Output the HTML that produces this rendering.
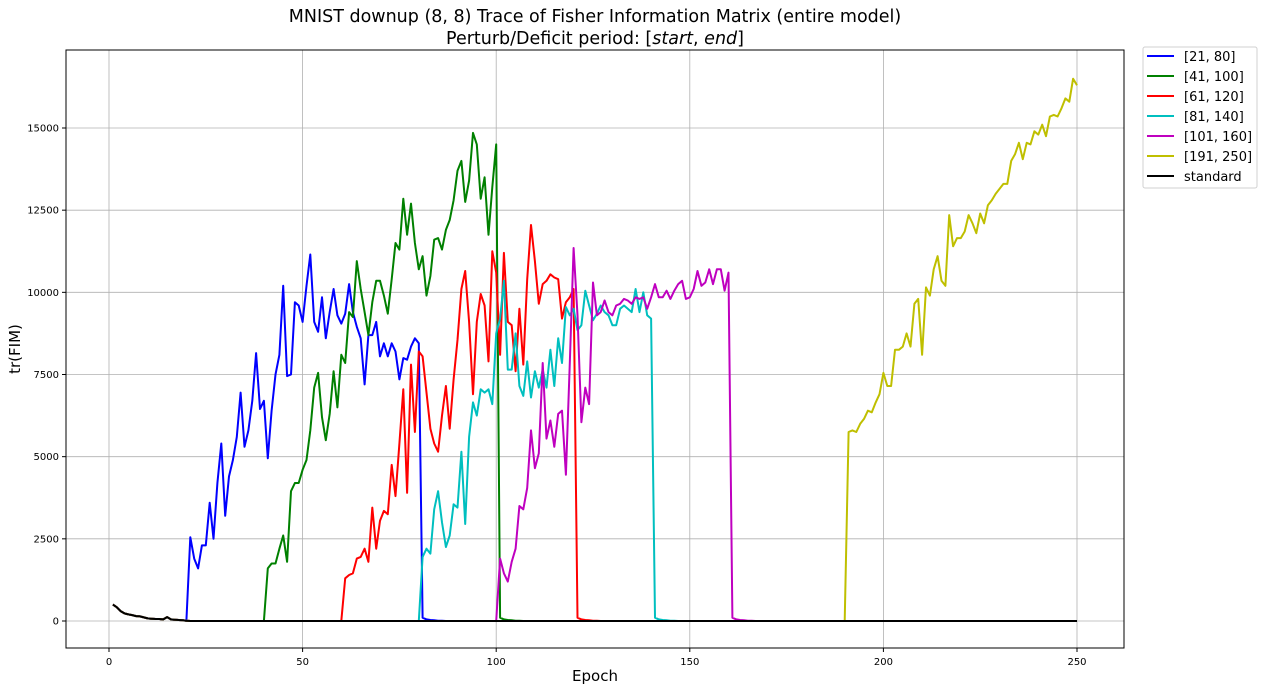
<!DOCTYPE html>
<html><head><meta charset="utf-8"><style>
body{margin:0;background:#fff;}
svg text{font-family:"DejaVu Sans","Liberation Sans",sans-serif;}
</style></head><body>
<svg id="chart" width="1264" height="691" xmlns="http://www.w3.org/2000/svg">
<rect width="1264" height="691" fill="#fff"/>
<text x="595" y="22" font-size="17.5" text-anchor="middle">MNIST downup (8, 8) Trace of Fisher Information Matrix (entire model)</text>
<text x="595" y="44" font-size="17.5" text-anchor="middle">Perturb/Deficit period: [<tspan font-style="italic">start</tspan>, <tspan font-style="italic">end</tspan>]</text>
<g id="grid"></g>
<g id="axes"></g>
<g id="series"></g>
<rect x="66" y="50" width="1058" height="598" fill="none" stroke="#000" stroke-width="1"/>
<text x="595" y="681" font-size="15" text-anchor="middle">Epoch</text>
<text x="20" y="349" font-size="15" text-anchor="middle" transform="rotate(-90 20 349)">tr(FIM)</text>
<g id="legend"></g>
</svg>
<script>
const labels = ["[21, 80]","[41, 100]","[61, 120]","[81, 140]","[101, 160]","[191, 250]","standard"];
const colors = ["#0000ff","#008000","#ff0000","#00bfbf","#bf00bf","#bfbf00","#000000"];
const starts = [21,41,61,81,101,191,0];
const xTicks = [0,50,100,150,200,250];
const yTicks = [0,2500,5000,7500,10000,12500,15000];
const yTickLabels = ["0","2500","5000","7500","10000","12500","15000"];
const warmup = [500,420,300,230,200,180,150,140,110,80,70,60,60,50,120,50,40,30,20,10];
const afterDrop = [100,50,30,20,10,5];
const blueActive = [2550,1900,1600,2300,2300,3600,2500,4200,5400,3200,4400,4900,5600,6950,5300,5800,6700,8150,6450,6700,4950,6400,7500,8100,10200,7450,7500,9700,9600,9100,10200,11150,9100,8800,9850,8600,9400,10100,9300,9050,9350,10250,9400,8950,8600,7200,8700,8700,9100,8050,8450,8050,8450,8200,7350,8000,7950,8350,8600,8450];
const greenActive = [1600,1750,1750,2200,2600,1800,3950,4200,4200,4600,4900,5800,7100,7550,6200,5500,6300,7600,6500,8100,7850,9400,9250,10950,10100,9400,8700,9700,10350,10350,9900,9350,10400,11500,11300,12850,11750,12700,11500,10700,11100,9900,10500,11600,11650,11300,11900,12200,12800,13700,14000,12750,13400,14850,14500,12850,13500,11750,13200,14500];
const redActive = [1300,1400,1450,1900,1950,2200,1800,3450,2200,3050,3350,3250,4750,3800,5400,7050,3900,7800,5750,8200,8050,6950,5850,5400,5150,6250,7150,5850,7350,8550,10100,10650,9100,6900,9100,9950,9600,7900,11250,10600,8100,11200,9100,9000,7600,9500,7800,10400,12050,10950,9650,10250,10350,10550,10450,10400,9200,9700,9850,10100];
const cyanActive = [1950,2200,2050,3400,3950,3000,2250,2600,3550,3450,5150,2950,5600,6650,6250,7050,6950,7050,6600,8750,9200,10350,7650,7650,8750,7150,6850,7900,6800,7600,7100,7650,7100,8250,7150,8600,7850,9550,9300,9500,8850,9000,10050,9600,9150,9350,9600,9400,9300,9000,9000,9500,9600,9500,9400,10100,9400,10000,9300,9200];
const magentaActive = [1900,1450,1200,1800,2200,3500,3400,4050,5800,4650,5100,7850,5550,6100,5300,6300,6400,4450,7850,11350,9300,6050,7100,6600,10300,9300,9400,9750,9400,9300,9600,9650,9800,9750,9650,9850,9800,9850,9500,9850,10250,9850,9850,10050,9800,10050,10250,10350,9800,9850,10100,10650,10200,10300,10700,10250,10700,10700,10050,10600];
const yellowActive = [5750,5800,5750,6000,6150,6400,6350,6650,6900,7550,7150,7150,8250,8250,8350,8750,8350,9650,9800,8100,10150,9900,10700,11100,10350,10200,12350,11400,11650,11650,11850,12350,12100,11800,12400,12100,12650,12800,13000,13150,13300,13300,14000,14200,14550,14050,14550,14500,14900,14800,15100,14750,15350,15400,15350,15600,15900,15800,16500,16300];
const actives = [blueActive,greenActive,redActive,cyanActive,magentaActive,yellowActive,[]];

const X0=109, XS=(1077-109)/250, Y0=621, YS=493/15000;
const xp = e => X0 + e*XS;
const yp = v => Y0 - v*YS;
const NS="http://www.w3.org/2000/svg";
function mk(tag, parent){const el=document.createElementNS(NS,tag);parent.appendChild(el);return el;}
const grid=document.getElementById('grid'), axes=document.getElementById('axes'), ser=document.getElementById('series'), leg=document.getElementById('legend');

xTicks.forEach(t=>{
  const l=mk('line',grid);
  
  
  l.setAttribute('x1',xp(t));l.setAttribute('x2',xp(t));l.setAttribute('y1',50);l.setAttribute('y2',648);
  l.setAttribute('stroke','#b0b0b0');l.setAttribute('stroke-width','0.8');
  const tk=mk('line',axes);
  
  
  tk.setAttribute('x1',xp(t));tk.setAttribute('x2',xp(t));tk.setAttribute('y1',648);tk.setAttribute('y2',652);tk.setAttribute('stroke','#000');
  const tx=mk('text',axes);
  
  
  tx.setAttribute('x',xp(t));tx.setAttribute('y',665);tx.setAttribute('font-size','10');tx.setAttribute('text-anchor','middle');
  tx.textContent=t;
});
yTicks.forEach((t,i)=>{
  const l=mk('line',grid);
  
  
  l.setAttribute('x1',66);l.setAttribute('x2',1124);l.setAttribute('y1',yp(t));l.setAttribute('y2',yp(t));
  l.setAttribute('stroke','#b0b0b0');l.setAttribute('stroke-width','0.8');
  const tk=mk('line',axes);
  
  
  tk.setAttribute('x1',62);tk.setAttribute('x2',66);tk.setAttribute('y1',yp(t));tk.setAttribute('y2',yp(t));tk.setAttribute('stroke','#000');
  const tx=mk('text',axes);
  
  
  tx.setAttribute('x',59);tx.setAttribute('y',yp(t)+3.5);tx.setAttribute('font-size','10');tx.setAttribute('text-anchor','end');
  tx.textContent=yTickLabels[i];
});

function buildSeries(k){
  const vals=[];
  const st=starts[k], act=actives[k];
  for(let e=1;e<=250;e++){
    let v=0;
    if(e<=warmup.length && (st===0 || e<st)) v=warmup[e-1];
    if(st>0 && e>=st && e<st+act.length) v=act[e-st];
    if(st>0 && e>=st+act.length && e<st+act.length+afterDrop.length) v=afterDrop[e-st-act.length];
    vals.push([e,v]);
  }
  return vals;
}
[0,1,2,3,4,5,6].forEach(k=>{
  const pts=buildSeries(k).map(p=>xp(p[0]).toFixed(1)+','+yp(p[1]).toFixed(1)).join(' ');
  const pl=mk('polyline',ser);
  
  
  pl.setAttribute('points',pts);pl.setAttribute('fill','none');pl.setAttribute('stroke',colors[k]);pl.setAttribute('stroke-width','2');pl.setAttribute('stroke-linejoin','round');
});

const box=mk('rect',leg);


box.setAttribute('x',1143);box.setAttribute('y',47);box.setAttribute('width',114);box.setAttribute('height',141);box.setAttribute('rx',2);
box.setAttribute('fill','#fff');box.setAttribute('stroke','#d0d0d0');
labels.forEach((lab,i)=>{
  const y=56+i*20;
  const g=mk('g',leg);
  
  
  const l=mk('line',g);
  
  
  l.setAttribute('x1',1147);l.setAttribute('x2',1174);l.setAttribute('y1',y);l.setAttribute('y2',y);l.setAttribute('stroke',colors[i]);l.setAttribute('stroke-width','2');
  const t=mk('text',g);
  
  
  t.setAttribute('x',1184);t.setAttribute('y',y+5);t.setAttribute('font-size','13');
  t.textContent=lab;
});
</script>
</body></html>
